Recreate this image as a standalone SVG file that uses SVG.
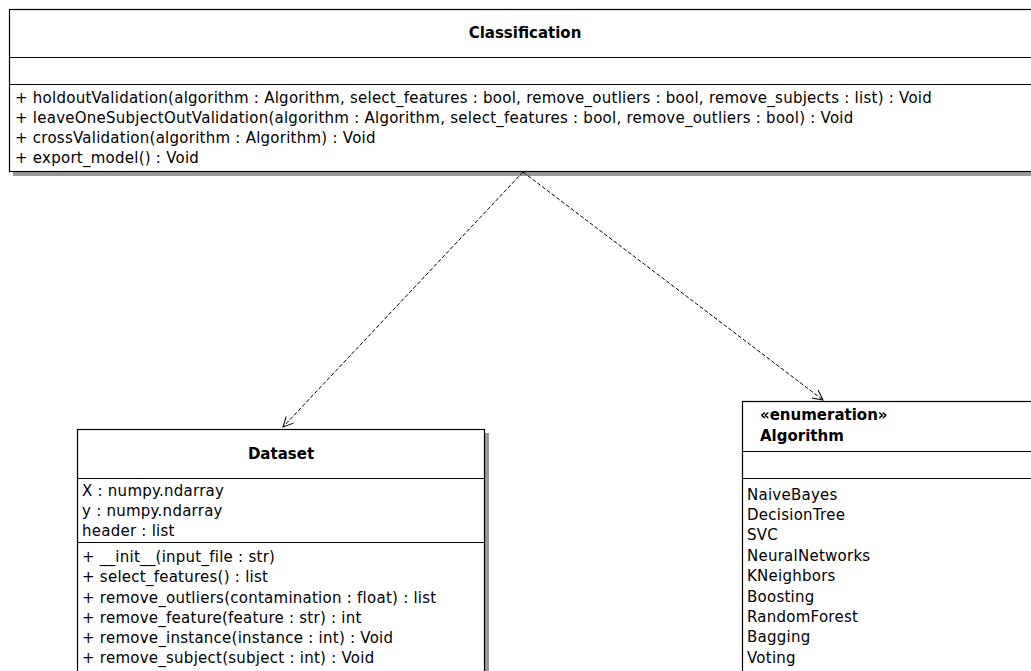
<svg xmlns="http://www.w3.org/2000/svg" width="1031" height="671" viewBox="0 0 1031 671">
<style>
.box{fill:#fff;stroke:#000;stroke-width:1.2}
.sh{fill:#9a9a9a}
.div{stroke:#000;stroke-width:1.2}
.t{font-family:"DejaVu Sans",sans-serif;font-size:15px;letter-spacing:0.25px;fill:#000}
.b{font-family:"DejaVu Sans",sans-serif;font-size:15px;font-weight:bold;fill:#000}
.c{fill:none;stroke:#000;stroke-width:1;stroke-dasharray:4,2}
</style>
<defs>
<marker id="open" viewBox="0 0 12 12" refX="11" refY="6" markerWidth="12" markerHeight="12" markerUnits="userSpaceOnUse" orient="auto">
<path d="M1,1 L11,6 L1,11" fill="none" stroke="#000" stroke-width="1"/>
</marker>
</defs>
<g id="Classification">
<rect class="sh" x="13" y="13" width="1030" height="163"/>
<rect class="box" x="9.5" y="9.5" width="1030" height="162"/>
<line class="div" x1="9" y1="57.5" x2="1031" y2="57.5"/>
<line class="div" x1="9" y1="84.5" x2="1031" y2="84.5"/>
<text class="b" x="525" y="38" text-anchor="middle">Classification</text>
<text class="t" x="15" y="103">+ holdoutValidation(algorithm : Algorithm, select_features : bool, remove_outliers : bool, remove_subjects : list) : Void</text>
<text class="t" x="15" y="123">+ leaveOneSubjectOutValidation(algorithm : Algorithm, select_features : bool, remove_outliers : bool) : Void</text>
<text class="t" x="15" y="143">+ crossValidation(algorithm : Algorithm) : Void</text>
<text class="t" x="15" y="163">+ export_model() : Void</text>
</g>
<g id="Dataset">
<rect class="sh" x="81" y="433" width="408" height="250"/>
<rect class="box" x="77.5" y="429.5" width="407" height="250"/>
<line class="div" x1="77" y1="478.5" x2="485" y2="478.5"/>
<line class="div" x1="77" y1="542.5" x2="485" y2="542.5"/>
<text class="b" x="281" y="459" text-anchor="middle">Dataset</text>
<text class="t" x="82" y="496">X : numpy.ndarray</text>
<text class="t" x="82" y="516">y : numpy.ndarray</text>
<text class="t" x="82" y="536">header : list</text>
<text class="t" x="82" y="562">+ __init__(input_file : str)</text>
<text class="t" x="82" y="582">+ select_features() : list</text>
<text class="t" x="82" y="603">+ remove_outliers(contamination : float) : list</text>
<text class="t" x="82" y="623">+ remove_feature(feature : str) : int</text>
<text class="t" x="82" y="643">+ remove_instance(instance : int) : Void</text>
<text class="t" x="82" y="663">+ remove_subject(subject : int) : Void</text>
</g>
<g id="Algorithm">
<rect class="sh" x="746" y="405" width="300" height="280"/>
<rect class="box" x="742.5" y="401.5" width="300" height="280"/>
<line class="div" x1="742" y1="451.5" x2="1031" y2="451.5"/>
<line class="div" x1="742" y1="478.5" x2="1031" y2="478.5"/>
<text class="b" x="760" y="420">«enumeration»</text>
<text class="b" x="760" y="441">Algorithm</text>
<text class="t" x="747" y="500">NaiveBayes</text>
<text class="t" x="747" y="520">DecisionTree</text>
<text class="t" x="747" y="540">SVC</text>
<text class="t" x="747" y="561">NeuralNetworks</text>
<text class="t" x="747" y="581">KNeighbors</text>
<text class="t" x="747" y="602">Boosting</text>
<text class="t" x="747" y="622">RandomForest</text>
<text class="t" x="747" y="642">Bagging</text>
<text class="t" x="747" y="663">Voting</text>
</g>
<g id="connectors">
<path class="c" d="M523,172 L283,427" marker-end="url(#open)"/>
<path class="c" d="M523,172 L823,400" marker-end="url(#open)"/>
</g>
</svg>
